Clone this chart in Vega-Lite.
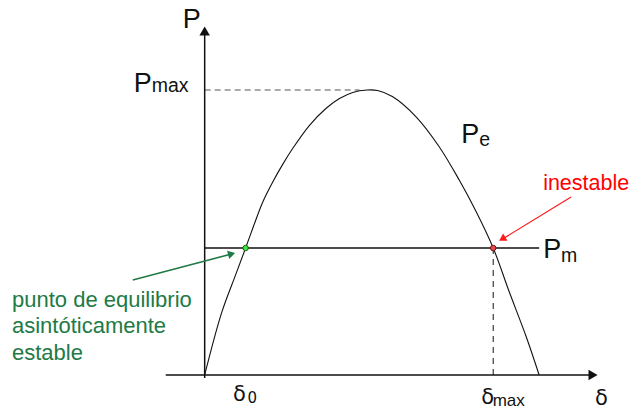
{
  "$schema": "https://vega.github.io/schema/vega-lite/v6.json",
  "width": 630,
  "height": 415,
  "padding": 0,
  "autosize": {"type": "fit", "contains": "padding"},
  "background": "white",
  "config": {"view": {"stroke": null}},
  "datasets": {
    "axes": [
      {"g": "v", "d": 0, "p": -0.0105},
      {"g": "v", "d": 0, "p": 1.2},
      {"g": "h", "d": -20.95, "p": 0},
      {"g": "h", "d": 208.5, "p": 0}
    ],
    "axisHeadUp": [{"d": 0, "p": 1.207}],
    "axisHeadRight": [{"d": 209.0, "p": 0}],
    "curve": [
      {"d": 0, "p": 0},
      {"d": 9.1, "p": 0.218},
      {"d": 16.7, "p": 0.352},
      {"d": 22.03, "p": 0.4456},
      {"d": 26.33, "p": 0.5228},
      {"d": 31.33, "p": 0.6081},
      {"d": 36.7, "p": 0.6782},
      {"d": 42.07, "p": 0.74},
      {"d": 47.44, "p": 0.7954},
      {"d": 56.42, "p": 0.876},
      {"d": 65.39, "p": 0.936},
      {"d": 72.54, "p": 0.97},
      {"d": 79.68, "p": 0.9914},
      {"d": 87.5, "p": 1.0},
      {"d": 93.0, "p": 0.998},
      {"d": 101.0, "p": 0.977},
      {"d": 113.9, "p": 0.905},
      {"d": 126.3, "p": 0.8},
      {"d": 137.0, "p": 0.684},
      {"d": 146.2, "p": 0.572},
      {"d": 155.28, "p": 0.4456},
      {"d": 163.9, "p": 0.292},
      {"d": 173.0, "p": 0.135},
      {"d": 180.0, "p": 0}
    ],
    "pm": [{"d": 0, "p": 0.4456}, {"d": 180, "p": 0.4456}],
    "pmax": [{"d": 0, "p": 1.0}, {"d": 83.3, "p": 1.0}],
    "dmax": [{"d": 155.28, "p": 0}, {"d": 155.28, "p": 0.4456}],
    "greenArrow": [{"d": -38.69, "p": 0.3333}, {"d": 13.43, "p": 0.4228}],
    "greenHead": [{"d": 14.51, "p": 0.4246}],
    "redArrow": [{"d": 197.19, "p": 0.6246}, {"d": 161.19, "p": 0.4807}],
    "redHead": [{"d": 160.12, "p": 0.4772}],
    "greenPt": [{"d": 22.03, "p": 0.4456}],
    "redPt": [{"d": 155.28, "p": 0.4456}],
    "bigP": [
      {"t": "P", "d": -11.82, "p": 1.2165},
      {"t": "P", "d": -38.15, "p": 0.994},
      {"t": "P", "d": 138.09, "p": 0.814},
      {"t": "P", "d": 182.15, "p": 0.4105}
    ],
    "subP": [
      {"t": "max", "d": -28.5, "p": 0.993},
      {"t": "e", "d": 147.76, "p": 0.8018},
      {"t": "m", "d": 191.82, "p": 0.3965}
    ],
    "red": [{"t": "inestable", "d": 182.15, "p": 0.6491}],
    "green": [
      {"t": "punto de equilibrio", "d": -103.7, "p": 0.2396},
      {"t": "asintóticamente", "d": -103.7, "p": 0.1463},
      {"t": "estable", "d": -103.7, "p": 0.0526}
    ],
    "delta": [
      {"t": "δ", "d": 15.3, "p": -0.093},
      {"t": "δ", "d": 148.83, "p": -0.1018},
      {"t": "δ", "d": 210.08, "p": -0.1053}
    ],
    "deltaSub": [
      {"t": "0", "d": 23.1, "p": -0.0982}
    ],
    "deltaSubMax": [
      {"t": "max", "d": 155.0, "p": -0.1088}
    ]
  },
  "encoding": {
    "x": {"field": "d", "type": "quantitative", "scale": {"domain": [-110.15, 228.36], "nice": false, "zero": false}, "axis": null},
    "y": {"field": "p", "type": "quantitative", "scale": {"domain": [-0.1404, 1.3158], "nice": false, "zero": false}, "axis": null}
  },
  "layer": [
    {"data": {"name": "pmax"}, "mark": {"type": "line", "stroke": "#555555", "strokeWidth": 1, "strokeDash": [6, 4]}, "encoding": {}},
    {"data": {"name": "dmax"}, "mark": {"type": "line", "stroke": "#111111", "strokeWidth": 1, "strokeDash": [6, 5]}, "encoding": {}},
    {"data": {"name": "axes"}, "mark": {"type": "line", "stroke": "#111111", "strokeWidth": 1.5}, "encoding": {"detail": {"field": "g"}}},
    {"data": {"name": "axisHeadUp"}, "mark": {"type": "point", "shape": "triangle-up", "filled": true, "color": "#111111", "size": 110, "opacity": 1}, "encoding": {}},
    {"data": {"name": "axisHeadRight"}, "mark": {"type": "point", "shape": "triangle-right", "filled": true, "color": "#111111", "size": 110, "opacity": 1}, "encoding": {}},
    {"data": {"name": "pm"}, "mark": {"type": "line", "stroke": "#111111", "strokeWidth": 1.3}, "encoding": {}},
    {"data": {"name": "curve"}, "mark": {"type": "line", "stroke": "#111111", "strokeWidth": 1.1, "interpolate": "catmull-rom"}, "encoding": {}},
    {"data": {"name": "greenArrow"}, "mark": {"type": "line", "stroke": "#217a45", "strokeWidth": 1.6}, "encoding": {}},
    {"data": {"name": "greenHead"}, "mark": {"type": "point", "shape": "triangle-right", "filled": true, "color": "#217a45", "size": 70, "opacity": 1, "angle": 345.3}, "encoding": {}},
    {"data": {"name": "redArrow"}, "mark": {"type": "line", "stroke": "#ff1a1a", "strokeWidth": 1.2}, "encoding": {}},
    {"data": {"name": "redHead"}, "mark": {"type": "point", "shape": "triangle-right", "filled": true, "color": "#ff1a1a", "size": 70, "opacity": 1, "angle": 148.7}, "encoding": {}},
    {"data": {"name": "greenPt"}, "mark": {"type": "point", "shape": "circle", "filled": true, "fill": "#3ee63e", "stroke": "#1a5c1a", "strokeWidth": 1, "size": 30, "opacity": 1}, "encoding": {}},
    {"data": {"name": "redPt"}, "mark": {"type": "point", "shape": "circle", "filled": true, "fill": "#ec4a4a", "stroke": "#7a1010", "strokeWidth": 1, "size": 30, "opacity": 1}, "encoding": {}},
    {"data": {"name": "bigP"}, "mark": {"type": "text", "font": "Liberation Sans", "fontSize": 27, "color": "#111111", "align": "left", "baseline": "alphabetic"}, "encoding": {"text": {"field": "t"}}},
    {"data": {"name": "subP"}, "mark": {"type": "text", "font": "Liberation Sans", "fontSize": 19.5, "color": "#111111", "align": "left", "baseline": "alphabetic"}, "encoding": {"text": {"field": "t"}}},
    {"data": {"name": "red"}, "mark": {"type": "text", "font": "Liberation Sans", "fontSize": 21.5, "color": "#ff0000", "align": "left", "baseline": "alphabetic"}, "encoding": {"text": {"field": "t"}}},
    {"data": {"name": "green"}, "mark": {"type": "text", "font": "Liberation Sans", "fontSize": 22, "color": "#217a45", "align": "left", "baseline": "alphabetic"}, "encoding": {"text": {"field": "t"}}},
    {"data": {"name": "delta"}, "mark": {"type": "text", "font": "DejaVu Sans", "fontSize": 21, "color": "#111111", "align": "left", "baseline": "alphabetic"}, "encoding": {"text": {"field": "t"}}},
    {"data": {"name": "deltaSub"}, "mark": {"type": "text", "font": "DejaVu Sans", "fontSize": 15, "color": "#111111", "align": "left", "baseline": "alphabetic"}, "encoding": {"text": {"field": "t"}}},
    {"data": {"name": "deltaSubMax"}, "mark": {"type": "text", "font": "Liberation Sans", "fontSize": 17, "color": "#111111", "align": "left", "baseline": "alphabetic"}, "encoding": {"text": {"field": "t"}}}
  ]
}
